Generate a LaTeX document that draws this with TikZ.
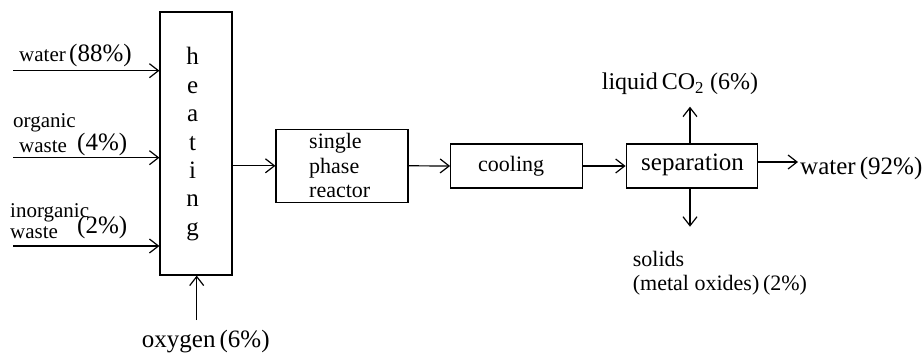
\documentclass[tikz,border=0pt]{standalone}
\usepackage{fontspec}
\setmainfont{Liberation Serif}
\usetikzlibrary{arrows.meta}
\begin{document}
\begin{tikzpicture}[x=1pt,y=-1pt,
  box/.style={draw,line width=1.2pt,inner sep=0pt,fill=white},
  arr/.style={line width=1.2pt,-{Straight Barb[length=9pt,width=14pt,line width=1.2pt]}},
  lab/.style={inner sep=0pt,anchor=base west},
  sm/.style={font=\fontsize{21}{23}\selectfont},
  md/.style={font=\fontsize{22}{24}\selectfont},
  lg/.style={font=\fontsize{25}{27}\selectfont}]
\useasboundingbox (0,0) rectangle (922,353);
% boxes
\node[box,minimum width=72pt,minimum height=263pt] (heat) at (196,143.5) {};
\node[box,minimum width=132pt,minimum height=73pt] (reac) at (342,165.8) {};
\node[box,minimum width=132pt,minimum height=44pt] (cool) at (516.7,166) {};
\node[box,minimum width=131pt,minimum height=44pt] (sep) at (691.7,166) {};
% heating letters
\foreach \l/\y [count=\i] in {h/65,e/93.3,a/121.7,t/150,i/178.3,n/206.7,g/235}
  \node[lg,inner sep=0pt,anchor=base] (L\i) at (192.7,\y) {\l};
% box texts
\node[lab,md] (t1) at (309,148) {single};
\node[lab,md] (t2) at (309,173) {phase};
\node[lab,md] (t3) at (309,197) {reactor};
\node[lab,md] (tc) at (478,171.7) {cooling};
\node[lab,lg] (ts) at (641,170) {separation};
% input labels
\node[lab,sm] (w1) at (19,62) {water};
\node[lab,lg] (w2) at (69,62) {(88\%)};
\node[lab,sm] (o1) at (13,128) {organic};
\node[lab,sm] (o2) at (19,152) {waste};
\node[lab,lg] (o3) at (77,150) {(4\%)};
\node[lab,sm] (i1) at (10,217) {inorganic};
\node[lab,sm] (i2) at (10,238) {waste};
\node[lab,lg] (i3) at (77,233) {(2\%)};
\node[lab,lg] (ox) at (141.7,347) {oxygen\,(6\%)};
% output labels
\node[lab,font=\fontsize{24}{26}\selectfont] (co) at (601.7,90) {liquid\,CO\textsubscript{2} (6\%)};
\node[lab,lg] (wo) at (800,175) {water\,(92\%)};
\node[lab,md] (so1) at (632.7,266.7) {solids};
\node[lab,md] (so2) at (632.7,290) {(metal oxides)\,(2\%)};
% arrow endpoints
\coordinate (a1) at (13,70.7);
\coordinate (a2) at (13,157.7);
\coordinate (a3) at (13,246);
\coordinate (a4) at (196.7,320);
\coordinate (b1) at (798,162);
\coordinate (b2) at (690,106.7);
\coordinate (b3) at (690,226.7);
% arrows
\draw[arr] (a1) -- (a1 -| heat.west);
\draw[arr] (a2) -- (a2 -| heat.west);
\draw[arr] (a3) -- (a3 -| heat.west);
\draw[arr] (a4) -- (a4 |- heat.south);
\draw[arr] (heat.east |- reac.west) -- (reac.west);
\draw[arr] (reac.east) -- (cool.west);
\draw[arr] (cool.east) -- (sep.west);
\draw[arr] (b1 -| sep.east) -- (b1);
\draw[arr] (b2 |- sep.north) -- (b2);
\draw[arr] (b3 |- sep.south) -- (b3);
\end{tikzpicture}
\end{document}
